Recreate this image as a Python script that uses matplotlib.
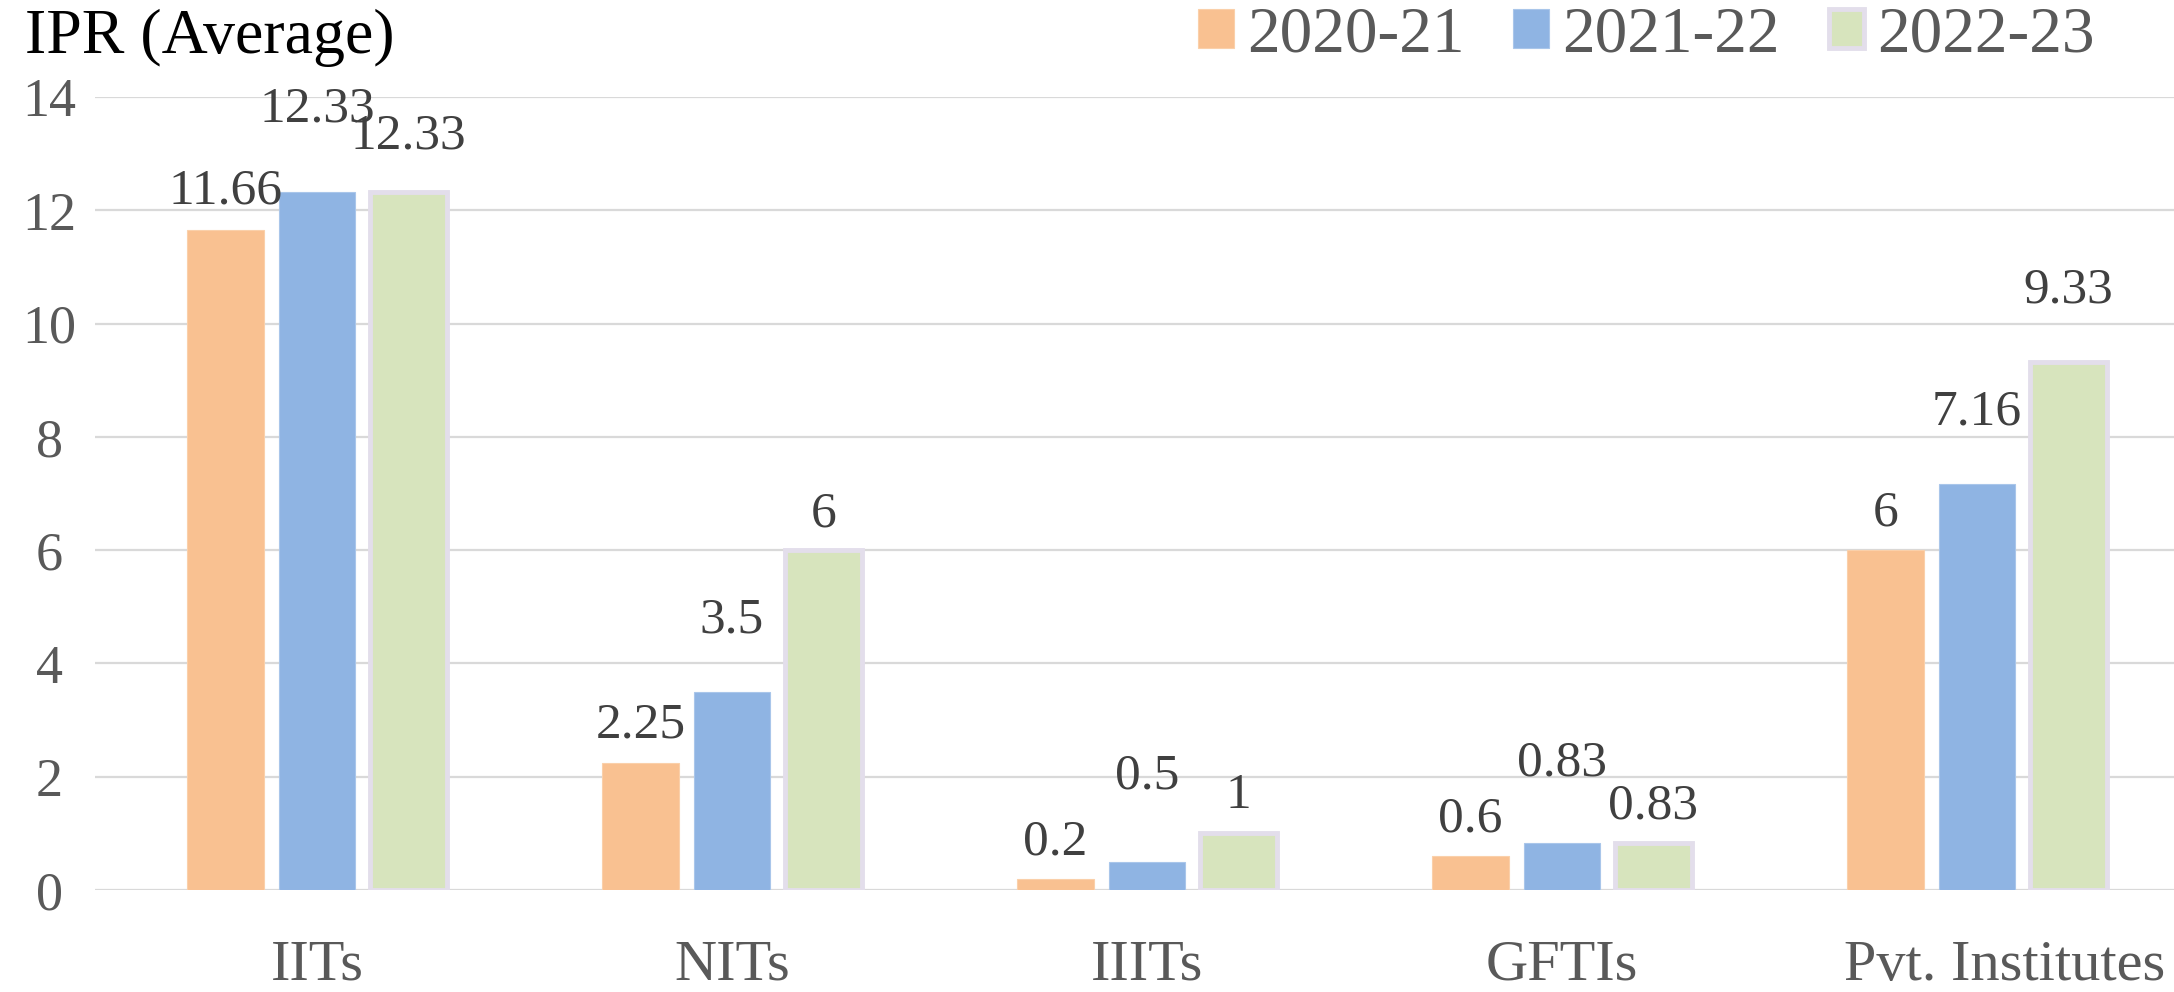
import matplotlib
matplotlib.use("Agg")
import matplotlib.pyplot as plt
import matplotlib.transforms as mtransforms
import numpy as np

categories = ["IITs", "NITs", "IIITs", "GFTIs", "Pvt. Institutes"]
years = ["2020-21", "2021-22", "2022-23"]
ipr_2020_21 = [11.66, 2.25, 0.2, 0.6, 6]
ipr_2021_22 = [12.33, 3.5, 0.5, 0.83, 7.16]
ipr_2022_23 = [12.33, 6, 1, 0.83, 9.33]
label_text = [
    ["11.66", "2.25", "0.2", "0.6", "6"],
    ["12.33", "3.5", "0.5", "0.83", "7.16"],
    ["12.33", "6", "1", "0.83", "9.33"],
]
# how far above each bar the value label sits (data units, as in the source)
label_lift = [
    [0.67, 0.65, 0.65, 0.65, 0.66],
    [1.45, 1.26, 1.5, 1.4, 1.27],
    [0.97, 0.64, 0.66, 0.64, 1.25],
]

face_colors = ["#F9C191", "#8FB4E3", "#D7E4BD"]
edge_colors = ["#FAD0AA", "#A9C6EA", "#E3DEEB"]
edge_widths = [0.8, 0.8, 3.5]

plt.rcParams["font.family"] = ["Liberation Serif", "DejaVu Serif"]

W, H = 2174, 992
fig = plt.figure(figsize=(W / 100, H / 100), dpi=100)
ax = fig.add_axes([95 / W, (H - 890) / H, (W - 95) / W, (890 - 97) / H])

x = np.arange(len(categories))
bar_w = 0.184
step = 0.2205
series = [ipr_2020_21, ipr_2021_22, ipr_2022_23]

for i, vals in enumerate(series):
    pos = x + (i - 1) * step
    ax.bar(pos, vals, width=bar_w, color=face_colors[i], edgecolor=edge_colors[i],
           linewidth=edge_widths[i], label=years[i], zorder=3)
    for p, v, t, lift in zip(pos, vals, label_text[i], label_lift[i]):
        ax.text(p, v + lift, t, ha="center", va="center", fontsize=37,
                color="#404040", zorder=4)

ax.set_xlim(-0.535, 4.475)
ax.set_ylim(0, 14)
ax.set_yticks(range(0, 15, 2))
ax.grid(axis="y", color="#D9D9D9", linewidth=1.6, zorder=0)
ax.set_axisbelow(True)
for s in ax.spines.values():
    s.set_visible(False)

ax.tick_params(axis="y", length=0, pad=33, labelsize=39, labelcolor="#595959")
for lb in ax.get_yticklabels():
    lb.set_horizontalalignment("center")

ax.set_xticks(x)
ax.set_xticklabels(categories)
ax.tick_params(axis="x", length=0, pad=36, labelsize=42, labelcolor="#595959")
# the last category label sits a little to the right in the source
last = ax.get_xticklabels()[-1]
last.set_transform(last.get_transform() +
                   mtransforms.ScaledTranslation(0.28, 0, fig.dpi_scale_trans))

fig.text(25 / W, 1 - 53 / H, "IPR (Average)", fontsize=46, color="black",
         ha="left", va="baseline")

leg = fig.legend(loc="upper right", bbox_to_anchor=(2095 / W, 1 - 6 / H), ncol=3,
                 frameon=False, fontsize=47, labelcolor="#595959",
                 handlelength=0.55, handleheight=0.55, handletextpad=0.2,
                 columnspacing=0.75, borderpad=0, borderaxespad=0)

fig.savefig("out.png", dpi=100)
